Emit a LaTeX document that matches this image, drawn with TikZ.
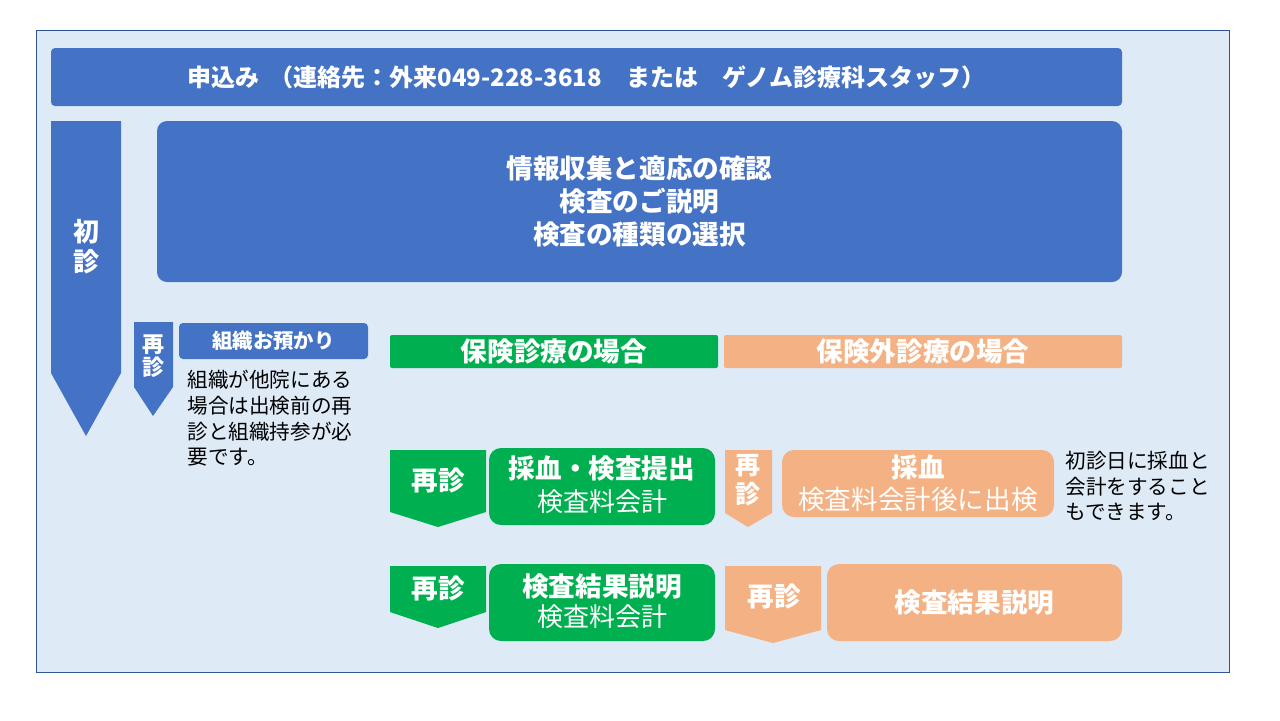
\documentclass[tikz,border=0pt]{standalone}
\usepackage{fontspec}
\setmainfont{Noto Sans CJK JP}
\definecolor{bgblue}{HTML}{DEEAF6}
\definecolor{frameblue}{HTML}{2F5597}
\definecolor{mblue}{HTML}{4472C4}
\definecolor{mgreen}{HTML}{00B050}
\definecolor{morange}{HTML}{F4B183}
\tikzset{
  box/.style={inner sep=0pt, text=white, align=center},
  bluebox/.style={box, fill=mblue, rounded corners=2pt},
  bigbox/.style={box, fill=mblue, rounded corners=5pt},
  greenbox/.style={box, fill=mgreen, rounded corners=6pt},
  orangebox/.style={box, fill=morange, rounded corners=6pt},
  lbl/.style={inner sep=0pt, text=white, align=center, font=\bfseries\fontsize{13.3pt}{16pt}\selectfont},
  note/.style={inner sep=0pt, anchor=north west, align=left, text=black, font=\fontsize{10.3pt}{12.8pt}\selectfont},
  fb/.style={font=\bfseries\fontsize{13.3pt}{16pt}\selectfont},
}
\begin{document}
\begin{tikzpicture}[x=0.5pt,y=-0.5pt]
\useasboundingbox (0,0) rectangle (1280,720);
\fill[white] (0,0) rectangle (1280,720);
\draw[fill=bgblue, draw=frameblue, line width=0.5pt] (36,30) rectangle (1229,672);

% top bar
\node[bluebox, minimum width=535.5pt, minimum height=29pt, font=\bfseries\fontsize{12pt}{14pt}\selectfont] (apply) at (586.5,77)
  {申込み\hspace{5pt}（連絡先：外来049-228-3618　または　ゲノム診療科スタッフ）};

% big box
\node[bigbox, minimum width=482.5pt, minimum height=80.5pt, font=\bfseries\fontsize{13.3pt}{16.5pt}\selectfont] (info) at (639.5,201.5)
  {情報収集と適応の確認\\検査のご説明\\検査の種類の選択};

% first-visit arrow
\fill[mblue] (51,121) -- (121,121) -- (121,373) -- (86,436) -- (51,373) -- cycle;
\node[lbl, font=\bfseries\fontsize{13pt}{15pt}\selectfont] (shoshin) at (86,247) {初\\診};

% small revisit arrow
\fill[mblue] (134,322) -- (173,322) -- (173,387) -- (153,416) -- (134,387) -- cycle;
\node[lbl, font=\bfseries\fontsize{11pt}{11.5pt}\selectfont] (saishinA) at (153,356) {再\\診};

% tissue box
\node[bluebox, minimum width=94.5pt, minimum height=18pt, font=\bfseries\fontsize{10.2pt}{12pt}\selectfont] (tissue) at (273.5,341) {組織お預かり};
\node[note] (tissuenote) at (187,370) {組織が他院にある\\場合は出検前の再\\診と組織持参が必\\要です。};

% headers
\node[box, fill=mgreen, rounded corners=1pt, minimum width=164pt, minimum height=16.5pt, fb] (hokenH) at (554,351.5) {保険診療の場合};
\node[box, fill=morange, rounded corners=1pt, minimum width=199pt, minimum height=16.5pt, fb] (gaiH) at (923,351.5) {保険外診療の場合};

% green row 1
\fill[mgreen] (390,450) -- (486,450) -- (486,512) -- (438,527) -- (390,512) -- cycle;
\node[lbl] (g1s) at (438,480) {再診};
\node[greenbox, minimum width=113pt, minimum height=38.5pt] (g1) at (602,486.5) {};
\node[lbl] (g1t) at (602,468) {採血・検査提出};
\node[inner sep=0pt, text=white, font=\fontsize{13pt}{15pt}\selectfont] (g1u) at (602,502) {検査料会計};

% green row 2
\fill[mgreen] (390,566) -- (486,566) -- (486,612) -- (438,628) -- (390,612) -- cycle;
\node[lbl] (g2s) at (438,588) {再診};
\node[greenbox, minimum width=113pt, minimum height=38.5pt] (g2) at (602,602.5) {};
\node[lbl] (g2t) at (602,586) {検査結果説明};
\node[inner sep=0pt, text=white, font=\fontsize{13pt}{15pt}\selectfont] (g2u) at (602,617) {検査料会計};

% orange row 1
\fill[morange] (725,450) -- (772,450) -- (772,513) -- (748,527) -- (725,513) -- cycle;
\node[lbl, font=\bfseries\fontsize{12.5pt}{14.5pt}\selectfont] (o1s) at (748,480) {再\\診};
\node[orangebox, minimum width=136pt, minimum height=33.5pt] (o1) at (918,483.5) {};
\node[lbl] (o1t) at (918,467) {採血};
\node[inner sep=0pt, text=white, font=\fontsize{13.3pt}{15pt}\selectfont] (o1u) at (918,499) {検査料会計後に出検};
\node[note] (o1note) at (1065,451) {初診日に採血と\\会計をすること\\もできます。};

% orange row 2
\fill[morange] (725,566) -- (821,566) -- (821,630) -- (773,643) -- (725,630) -- cycle;
\node[lbl] (o2s) at (774,596) {再診};
\node[orangebox, minimum width=147.5pt, minimum height=38.5pt, fb] (o2) at (974.5,602.5) {検査結果説明};
\end{tikzpicture}
\end{document}
